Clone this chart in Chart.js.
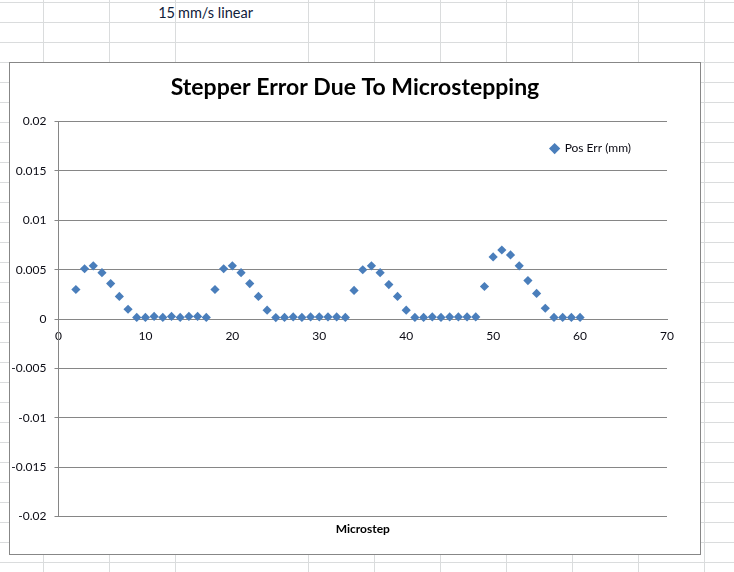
<!DOCTYPE html>
<html>
<head>
<meta charset="utf-8">
<script src="https://cdn.jsdelivr.net/npm/chart.js@4.4.0/dist/chart.umd.min.js"></script>
<style>
  html, body { margin: 0; padding: 0; }
  body {
    width: 734px; height: 572px; overflow: hidden; position: relative;
    background: #fff repeating-linear-gradient(to bottom, #dadcdd 0 1px, transparent 1px 20px);
    background-position: 0 2px;
    font-family: Lato, "Open Sans", sans-serif;
  }
  .col { position: absolute; top: 0; width: 1px; height: 572px; background: #dadcdd; }
  .cell { position: absolute; top: 4px; font-size: 14.5px; color: #10203a; }
  #box {
    position: absolute; left: 9px; top: 62px; width: 692px; height: 493px;
    box-sizing: border-box; border: 1px solid #878787; background: #fff;
  }
</style>
</head>
<body>
<div class="cell" style="left:142px;width:33px;text-align:right">15</div>
<div class="cell" style="left:178px">mm/s linear</div>
<div id="box"><canvas id="myChart" width="690" height="491"></canvas></div>
<script>
//---------------------------------Nền bảng tính-------------------------------//
var colLines = [43, 109, 175, 308, 374, 440, 506, 572, 638, 704];
for (var c = 0; c < colLines.length; c++){
  var d = document.createElement('div');
  d.className = 'col';
  d.style.left = colLines[c] + 'px';
  document.body.insertBefore(d, document.body.firstChild);
}

//---------------------------------Dữ liệu-------------------------------//
var microsteps = [];
for (var i = 2; i <= 60; i++){ microsteps.push(i); }

var posErr = [
  0.0030, 0.0051, 0.0054, 0.0047, 0.0036, 0.0023, 0.0010, 0.00017,   // 2-9
  0.00017, 0.00027, 0.00017, 0.00027, 0.00017, 0.00027, 0.00027, 0.00017, // 10-17
  0.0030, 0.0051, 0.0054, 0.0047, 0.0036, 0.0023, 0.0009, 0.00015,   // 18-25
  0.00017, 0.00022, 0.00017, 0.00022, 0.00022, 0.00022, 0.00022, 0.00017, // 26-33
  0.0029, 0.0050, 0.0054, 0.0047, 0.0035, 0.0023, 0.0009,            // 34-40
  0.00017, 0.00017, 0.00022, 0.00017, 0.00022, 0.00022, 0.00022, 0.00022, // 41-48
  0.0033, 0.0063, 0.0070, 0.0065, 0.0054, 0.0039, 0.0026, 0.0011,    // 49-56
  0.00017, 0.00017, 0.00017, 0.00017                                 // 57-60
];

var yTicks = [-0.02, -0.015, -0.01, -0.005, 0, 0.005, 0.01, 0.015, 0.02];
var xTicks = [0, 10, 20, 30, 40, 50, 60, 70];

var points = [];
for (var i = 0; i < microsteps.length; i++){
  points.push({x: microsteps[i], y: posErr[i]});
}

//---------------------------------Vẽ biểu đồ-------------------------------//
var gridColor = '#868686';
var textColor = '#0b0b14';

//Đặt chú thích ở góc trên bên phải vùng vẽ
var legendPlace = {
  id: 'legendPlace',
  afterLayout: function(chart){
    var lg = chart.legend, area = chart.chartArea;
    var w = lg.columnSizes && lg.columnSizes.length ? lg.columnSizes[0].width : 80;
    var h = lg.height;
    lg.top = area.top;
    lg.bottom = area.top + h;
    lg.left = area.right - 36 - w - 21;
    lg.right = lg.left + lg.width;
  }
};

new Chart("myChart", {
  type: "scatter",
  data: {
    datasets: [{
      label: "Pos Err (mm)",
      data: points,
      pointStyle: "rectRot",
      pointRadius: 4.6,
      pointHoverRadius: 4.6,
      backgroundColor: "#4a7ebb",
      borderColor: "#4a7ebb",
      borderWidth: 0
    }]
  },
  options: {
    responsive: false,
    animation: false,
    layout: { padding: { left: 0, right: 0, top: 0, bottom: 4 } },
    plugins: {
      tooltip: { enabled: false },
      title: {
        display: true,
        text: "Stepper Error Due To Microstepping",
        color: "#000",
        font: { family: "Lato", size: 23, weight: "bold" },
        padding: { top: 11, bottom: 20 }
      },
      legend: {
        position: "chartArea",
        align: "start",
        labels: {
          usePointStyle: true,
          pointStyle: "rectRot",
          boxWidth: 8,
          boxHeight: 8,
          padding: 21,
          color: textColor,
          font: { family: "Lato", size: 12 }
        }
      }
    },
    scales: {
      x: {
        type: "linear",
        position: "bottom",
        min: 0, max: 70,
        grid: { display: false, drawTicks: false },
        border: { display: false },
        ticks: { display: false },
        title: {
          display: true,
          text: "Microstep",
          color: "#000",
          font: { family: "Lato", size: 12, weight: "bold" },
          padding: { top: 5, bottom: 14 }
        }
      },
      x0: {
        type: "linear",
        position: { y: 0 },
        min: 0, max: 70,
        afterBuildTicks: function(s){ s.ticks = xTicks.map(function(v){ return {value: v}; }); },
        grid: { display: false, drawTicks: false },
        border: { display: true, color: gridColor, width: 1 },
        ticks: {
          padding: 10,
          color: textColor,
          maxRotation: 0,
          font: { family: "Lato", size: 12 }
        }
      },
      y: {
        type: "linear",
        min: -0.02, max: 0.02,
        afterBuildTicks: function(s){ s.ticks = yTicks.map(function(v){ return {value: v}; }); },
        afterFit: function(s){ s.width = 48.5; },
        grid: { color: gridColor, tickLength: 4, lineWidth: 1 },
        border: { display: true, color: gridColor, width: 1 },
        ticks: {
          padding: 8,
          color: textColor,
          font: { family: "Lato", size: 12 },
          callback: function(v){ return String(Math.round(v * 1000) / 1000); }
        }
      },
      //Trục phải trống, chỉ để chừa lề phải
      yR: {
        type: "linear",
        position: "right",
        min: -0.02, max: 0.02,
        afterFit: function(s){ s.width = 33; },
        grid: { display: false, drawTicks: false },
        border: { display: false },
        ticks: { display: false }
      }
    }
  },
  plugins: [legendPlace]
});
</script>
</body>
</html>
